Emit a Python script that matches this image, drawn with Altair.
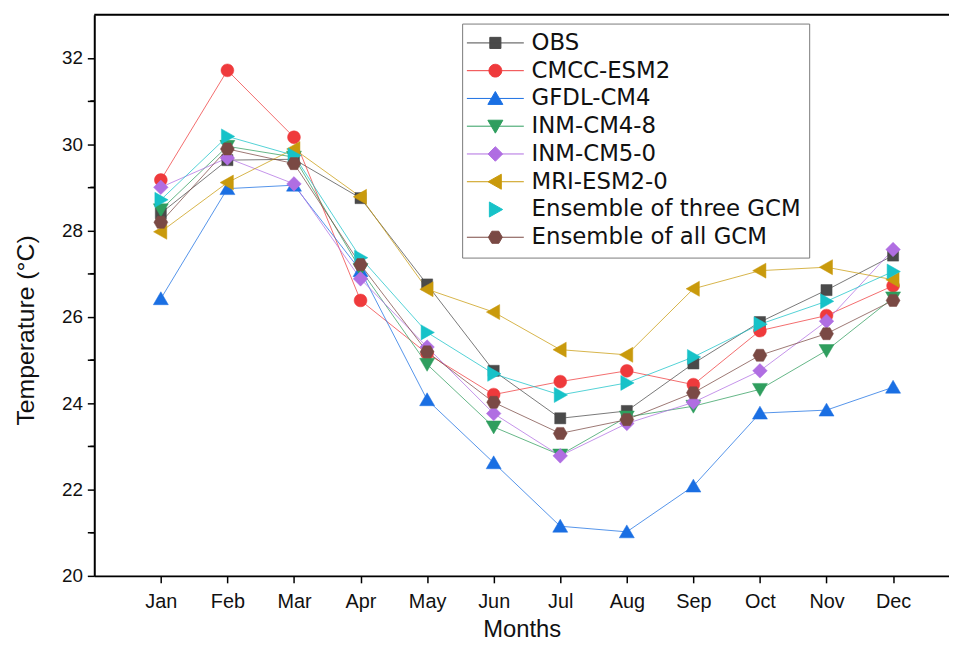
import altair as alt
import pandas as pd

months = ["Jan", "Feb", "Mar", "Apr", "May", "Jun", "Jul", "Aug", "Sep", "Oct", "Nov", "Dec"]
month_num = list(range(1, 13))

series = ["OBS", "CMCC-ESM2", "GFDL-CM4", "INM-CM4-8", "INM-CM5-0",
          "MRI-ESM2-0", "Ensemble of three GCM", "Ensemble of all GCM"]

obs      = [28.40, 29.63, 29.65, 28.75, 26.75, 24.75, 23.65, 23.82, 24.92, 25.88, 26.62, 27.42]
cmcc     = [29.17, 31.71, 30.16, 26.38, 25.15, 24.20, 24.50, 24.75, 24.43, 25.68, 26.03, 26.72]
gfdl     = [26.42, 28.97, 29.05, 27.07, 24.08, 22.62, 21.15, 21.02, 22.08, 23.77, 23.84, 24.37]
inm48    = [28.48, 29.95, 29.70, 27.10, 24.90, 23.45, 22.80, 23.68, 23.93, 24.32, 25.22, 26.44]
inm50    = [29.00, 29.68, 29.08, 26.88, 25.30, 23.76, 22.78, 23.53, 24.02, 24.75, 25.90, 27.56]
mri      = [27.97, 29.11, 29.89, 28.78, 26.64, 26.11, 25.24, 25.12, 26.65, 27.07, 27.15, 26.86]
ens3     = [28.71, 30.18, 29.74, 27.37, 25.64, 24.68, 24.19, 24.47, 25.07, 25.83, 26.36, 27.05]
ens_all  = [28.19, 29.89, 29.55, 27.21, 25.19, 24.02, 23.30, 23.62, 24.24, 25.11, 25.61, 26.38]

values = [obs, cmcc, gfdl, inm48, inm50, mri, ens3, ens_all]

colors = ["#4a4a4a", "#ef3a3c", "#1a6fe3", "#2f9e5e", "#b06ee2", "#c99a0c", "#17c2c8", "#7a4944"]

# marker outlines in unit coordinates
sq = "M-0.8,-0.8H0.8V0.8H-0.8Z"
ci = "M-0.92,0A0.92,0.92 0 1,0 0.92,0A0.92,0.92 0 1,0 -0.92,0Z"
tu = "M0,-1L1.08,0.86L-1.08,0.86Z"
td = "M0,1L1.08,-0.86L-1.08,-0.86Z"
di = "M0,-1.05L1.05,0L0,1.05L-1.05,0Z"
tl = "M-1.05,0L0.86,-1.08L0.86,1.08Z"
tr = "M1.05,0L-0.86,-1.08L-0.86,1.08Z"
hx = "M-1,0L-0.5,-0.87L0.5,-0.87L1,0L0.5,0.87L-0.5,0.87Z"
shapes = [sq, ci, tu, td, di, tl, tr, hx]
seg = "M-4.1,0H4.1"
legend_shapes = [seg + sq, seg + ci, seg + tu, seg + td, seg + di, seg + tl, tr, seg + hx]

y_min, y_max = 20, 33
x_min, x_max = 0, 12.84
y_ticks = list(range(20, 33))

rows = []
for s, vals in zip(series, values):
    for m, v in zip(month_num, vals):
        rows.append({"series": s, "month": m, "temp": v})
df = pd.DataFrame(rows)

label_font = "Liberation Sans"
narrow_font = "Liberation Sans Narrow, Arial Narrow, Liberation Sans"

month_expr = "[" + ",".join("'%s'" % m for m in months) + "][datum.value - 1]"

x_scale = alt.Scale(domain=[x_min, x_max], nice=False, zero=False)
y_scale = alt.Scale(domain=[y_min, y_max], nice=False, zero=False)

x_enc = alt.X("month:Q", scale=x_scale,
              axis=alt.Axis(values=month_num, labelExpr=month_expr, title="Months",
                            grid=False, domainColor="black", domainWidth=2,
                            tickColor="black", tickWidth=1.5, tickSize=7,
                            labelFont=narrow_font, labelFontSize=20, labelColor="#111",
                            labelPadding=9, titleFont=narrow_font, titleFontSize=24,
                            titleFontWeight="normal", titleColor="#111", titlePadding=6))
y_enc = alt.Y("temp:Q", scale=y_scale,
              axis=alt.Axis(values=y_ticks,
                            labelExpr="datum.value % 2 == 0 ? datum.label : ''",
                            title="Temperature (°C)", grid=False,
                            domainColor="black", domainWidth=2, tickColor="black",
                            tickWidth=1.5, tickSize=7,
                            labelFont=label_font, labelFontSize=19, labelColor="#111",
                            labelPadding=5, titleFont=label_font, titleFontSize=25,
                            titleFontWeight="normal", titleColor="#111", titlePadding=23,
                            titleY=318))

color_scale = alt.Scale(domain=series, range=colors)

lines = alt.Chart(df).mark_line(strokeWidth=1, opacity=0.75).encode(
    x=x_enc, y=y_enc,
    stroke=alt.Stroke("series:N", scale=color_scale, legend=None),
    detail="series:N",
)

points = alt.Chart(df).mark_point(filled=True, size=196, opacity=1, strokeWidth=0.5).encode(
    x=x_enc, y=y_enc,
    fill=alt.Fill("series:N", scale=color_scale, legend=None),
    stroke=alt.Stroke("series:N", scale=color_scale, legend=None),
    shape=alt.Shape("series:N", scale=alt.Scale(domain=series, range=shapes), legend=None),
)

leg = alt.Legend(title=None, orient="none", legendX=371, legendY=9,
                 labelFont="DejaVu Sans", labelFontSize=23, labelColor="#111",
                 symbolSize=196, symbolStrokeWidth=1, symbolOffset=14,
                 labelOffset=25, rowPadding=4, padding=8,
                 strokeColor="#7a7a7a", fillColor="white", labelLimit=400)

legend_layer = alt.Chart(df).transform_filter("false").mark_point(filled=True, size=196, opacity=1).encode(
    x=x_enc, y=y_enc,
    fill=alt.Fill("series:N", scale=color_scale, legend=leg),
    stroke=alt.Stroke("series:N", scale=color_scale, legend=leg),
    shape=alt.Shape("series:N", scale=alt.Scale(domain=series, range=legend_shapes), legend=leg),
)

top_df = pd.DataFrame({"temp": [y_max]})
top_line = alt.Chart(top_df).mark_rule(color="black", strokeWidth=2).encode(y=y_enc)

# short minor ticks on the temperature axis (odd values)
minor_df = pd.DataFrame({"temp": [v for v in y_ticks if v % 2 == 1]})
minor = alt.Chart(minor_df).mark_rule(color="black", strokeWidth=1.5).encode(
    y=y_enc, x=alt.value(-4), x2=alt.value(0))

chart = alt.layer(lines, points, top_line, minor, legend_layer).resolve_scale(
    shape="independent", fill="independent", stroke="independent"
).resolve_legend(
    shape="independent", fill="independent", stroke="independent"
).properties(
    width=862, height=566,
    autosize=alt.AutoSizeParams(type="none"),
    padding={"left": 87, "top": 4, "right": 0, "bottom": 67},
).configure_view(stroke=None).configure(background="white")

chart.save("out.html", embed_options={"renderer": "svg", "actions": False})
